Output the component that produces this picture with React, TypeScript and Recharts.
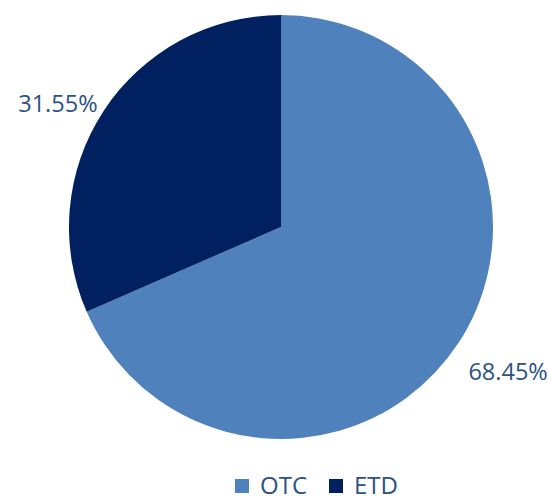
import React from "react";
import { PieChart, Pie, Cell, Legend } from "recharts";

const categories = ["OTC", "ETD"];
const shares = [68.45, 31.55];
const colors = ["#4F81BD", "#002060"];

const data = categories.map((name, i) => ({ name, value: shares[i] }));

const RAD = Math.PI / 180;
const textColor = "#2C5286";

const renderLabel = (props: any) => {
  const { cx, cy, midAngle, outerRadius, value } = props;
  const cos = Math.cos(-midAngle * RAD);
  const sin = Math.sin(-midAngle * RAD);
  const r = outerRadius + 12;
  const x = cx + r * cos + (cos >= 0 ? 0 : 4);
  const y = cy + r * sin;
  const anchor = cos >= 0 ? "start" : "end";
  const ty = sin >= 0 ? y + 9 + 21 : y + 8;
  return (
    <text
      x={x}
      y={ty}
      textAnchor={anchor}
      fill={textColor}
      fontSize={23.5}
      fontFamily="'Open Sans', sans-serif"
    >
      {value.toFixed(2)}%
    </text>
  );
};

const renderLegend = () => (
  <div
    style={{
      display: "flex",
      justifyContent: "flex-start",
      alignItems: "center",
      fontFamily: "'Open Sans', sans-serif",
      fontSize: 24,
      lineHeight: "30px",
      color: textColor,
      paddingLeft: 235,
    }}
  >
    {categories.map((c, i) => (
      <div key={c} style={{ display: "flex", alignItems: "center", marginRight: 22 }}>
        <span
          style={{
            display: "inline-block",
            width: 14,
            height: 14,
            background: colors[i],
            marginRight: 11,
            marginTop: 2,
          }}
        />
        <span>{c}</span>
      </div>
    ))}
  </div>
);

export default function App() {
  return (
    <div style={{ position: "absolute", left: 0, top: 0, background: "#fff" }}>
      <PieChart width={549} height={501}>
        <Pie
          data={data}
          dataKey="value"
          nameKey="name"
          cx={276}
          cy={222}
          outerRadius={212}
          startAngle={90}
          endAngle={-270}
          stroke="none"
          label={renderLabel}
          labelLine={false}
          isAnimationActive={false}
        >
          {data.map((d, i) => (
            <Cell key={d.name} fill={colors[i]} />
          ))}
        </Pie>
        <Legend content={renderLegend} wrapperStyle={{ top: 470, left: 0, width: 549 }} />
      </PieChart>
    </div>
  );
}
